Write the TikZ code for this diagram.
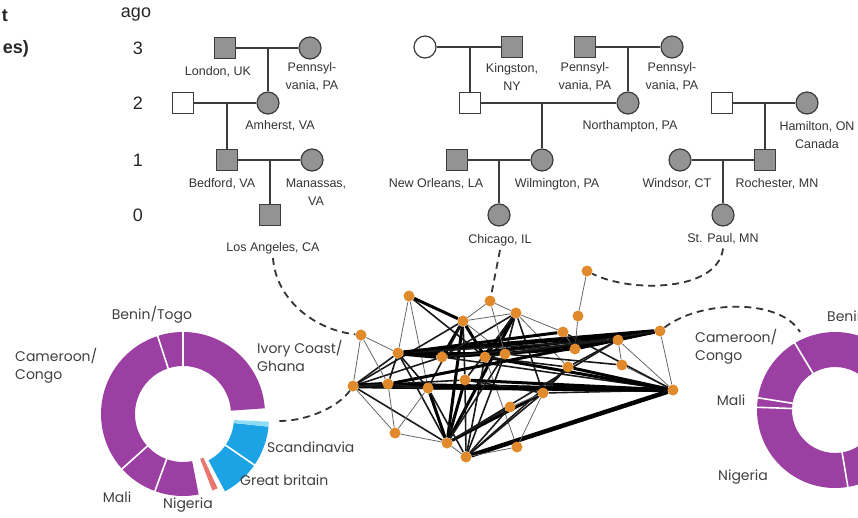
\documentclass[tikz,border=0pt]{standalone}
\usepackage{fontspec}
\setmainfont{Liberation Sans}
\newfontfamily\geo{Poppins}
\definecolor{purp}{HTML}{9B3FA2}
\definecolor{blu}{HTML}{1CA3E6}
\definecolor{lblu}{HTML}{8FDDF5}
\definecolor{redp}{HTML}{E8766E}
\definecolor{orng}{HTML}{E08A2C}
\definecolor{pedfill}{HTML}{939393}
\definecolor{pedline}{HTML}{3C3C3C}
\pgfdeclarelayer{bg}
\pgfsetlayers{bg,main}
\newcommand{\dseg}[5]{\fill[#1] (#2:#5) arc[start angle=#2, end angle=#3, radius=#5] -- (#3:#4) arc[start angle=#3, end angle=#2, radius=#4] -- cycle;}
\newcommand{\dsep}[3]{\draw[white, line width=1.6pt] (#1:#2) -- (#1:#3);}
\begin{document}
\begin{tikzpicture}[x=1pt,y=1pt,
  sq/.style={rectangle, draw=pedline, line width=1.2pt, fill=pedfill, minimum size=21pt, inner sep=0pt},
  sqw/.style={sq, fill=white},
  ci/.style={circle, draw=pedline, line width=1.2pt, fill=pedfill, minimum size=22pt, inner sep=0pt},
  ciw/.style={ci, fill=white},
  pl/.style={draw=pedline, line width=1.3pt},
  lab/.style={font=\fontsize{12.5}{18}\selectfont, text=black!80, align=center, inner sep=0pt},
  gen/.style={font=\fontsize{18}{20}\selectfont, text=black!85, inner sep=0pt},
  dlab/.style={font=\geo\fontsize{14}{18}\selectfont, text=black!75, inner sep=0pt},
  nd/.style={circle, fill=orng, minimum size=11pt, inner sep=0pt},
  ea/.style={line width=0.8pt, draw=black!60},
  eb/.style={line width=1.6pt, draw=black!90},
  ec/.style={line width=3pt, draw=black},
  ed/.style={line width=4.5pt, draw=black},
  dsh/.style={dash pattern=on 7pt off 5pt, line width=1.8pt, draw=black!80}
]
\useasboundingbox (0,0) rectangle (858,-517);
\clip (0,0) rectangle (858,-517);

% cut-off left labels
\node[gen, font=\bfseries\fontsize{18}{20}\selectfont, anchor=east] (cutA) at (8,-16) {t};
\node[gen, font=\bfseries\fontsize{18}{20}\selectfont, anchor=east] (cutB) at (29,-49) {es)};
% generation axis
\node[gen] (ago) at (136,-15) {ago};
\node[gen] (g3) at (138,-48) {3};
\node[gen] (g2) at (138,-103) {2};
\node[gen] (g1) at (138,-160) {1};
\node[gen] (g0) at (138,-215) {0};

% ---------- pedigree 1
\node[sq] (l3a) at (225,-48) {};
\node[ci] (l3b) at (310,-48) {};
\node[sqw] (l2a) at (183,-103) {};
\node[ci] (l2b) at (268,-103) {};
\node[sq] (l1a) at (227,-160) {};
\node[ci] (l1b) at (312,-160) {};
\node[sq] (l0) at (270,-215) {};
\coordinate (l3m) at (268,-48);
\coordinate (l2m) at (227,-103);
\coordinate (l1m) at (270,-160);
\draw[pl] (l3a) -- (l3b);
\draw[pl] (l3m) -- (l2b);
\draw[pl] (l2a) -- (l2b);
\draw[pl] (l2m) -- (l1a);
\draw[pl] (l1a) -- (l1b);
\draw[pl] (l1m) -- (l0);
\node[lab] (tLon) at (218,-72) {London, UK};
\node[lab] (tPa1) at (312,-77) {Pennsyl-\\vania, PA};
\node[lab] (tAmh) at (280,-126) {Amherst, VA};
\node[lab] (tBed) at (222,-184) {Bedford, VA};
\node[lab] (tMan) at (316,-192) {Manassas,\\VA};
\node[lab] (tLA) at (273,-248) {Los Angeles, CA};

% ---------- pedigree 2
\node[ciw] (m3a) at (425,-47) {};
\node[sq] (m3b) at (512,-47) {};
\node[sq] (m3c) at (585,-47) {};
\node[ci] (m3d) at (672,-47) {};
\node[sqw] (m2a) at (470,-103) {};
\node[ci] (m2b) at (628,-103) {};
\node[sq] (m1a) at (457,-160) {};
\node[ci] (m1b) at (542,-160) {};
\node[ci] (m0) at (499,-215) {};
\coordinate (m3m) at (470,-47);
\coordinate (m3n) at (628,-47);
\coordinate (m2m) at (542,-103);
\coordinate (m1m) at (499,-160);
\draw[pl] (m3a) -- (m3b);
\draw[pl] (m3m) -- (m2a);
\draw[pl] (m3c) -- (m3d);
\draw[pl] (m3n) -- (m2b);
\draw[pl] (m2a) -- (m2b);
\draw[pl] (m2m) -- (m1b);
\draw[pl] (m1a) -- (m1b);
\draw[pl] (m1m) -- (m0);
\node[lab] (tKin) at (512,-77) {Kingston,\\NY};
\node[lab] (tPa2) at (585,-77) {Pennsyl-\\vania, PA};
\node[lab] (tPa3) at (672,-77) {Pennsyl-\\vania, PA};
\node[lab] (tNor) at (630,-126) {Northampton, PA};
\node[lab] (tNO) at (436,-184) {New Orleans, LA};
\node[lab] (tWil) at (557,-184) {Wilmington, PA};
\node[lab] (tChi) at (500,-240) {Chicago, IL};

% ---------- pedigree 3
\node[sqw] (r2a) at (722,-103) {};
\node[ci] (r2b) at (807,-103) {};
\node[ci] (r1a) at (680,-160) {};
\node[sq] (r1b) at (765,-160) {};
\node[ci] (r0) at (723,-215) {};
\coordinate (r2m) at (765,-103);
\coordinate (r1m) at (723,-160);
\draw[pl] (r2a) -- (r2b);
\draw[pl] (r2m) -- (r1b);
\draw[pl] (r1a) -- (r1b);
\draw[pl] (r1m) -- (r0);
\node[lab] (tHam) at (817,-135) {Hamilton, ON\\Canada};
\node[lab] (tWin) at (677,-184) {Windsor, CT};
\node[lab] (tRoc) at (777,-184) {Rochester, MN};
\node[lab] (tSP) at (723,-239) {St. Paul, MN};

% ---------- network
\node[nd] (n1) at (409,-296) {};
\node[nd] (n2) at (490,-301) {};
\node[nd] (n3) at (516,-313) {};
\node[nd] (n4) at (463,-321) {};
\node[nd] (n5) at (361,-335) {};
\node[nd] (n6) at (398,-353) {};
\node[nd] (n7) at (442,-357) {};
\node[nd] (n8) at (485,-357) {};
\node[nd] (n9) at (505,-354) {};
\node[nd] (n10) at (353,-386) {};
\node[nd] (n11) at (388,-384) {};
\node[nd] (n12) at (428,-388) {};
\node[nd] (n13) at (465,-380) {};
\node[nd] (n14) at (543,-393) {};
\node[nd] (n15) at (510,-407) {};
\node[nd] (n16) at (395,-433) {};
\node[nd] (n17) at (447,-443) {};
\node[nd] (n18) at (466,-457) {};
\node[nd] (n19) at (517,-447) {};
\node[nd] (n20) at (587,-271) {};
\node[nd] (n21) at (578,-316) {};
\node[nd] (n22) at (563,-332) {};
\node[nd] (n23) at (575,-349) {};
\node[nd] (n24) at (568,-367) {};
\node[nd] (n25) at (618,-340) {};
\node[nd] (n26) at (660,-331) {};
\node[nd] (n27) at (622,-365) {};
\node[nd] (n28) at (673,-390) {};

\begin{pgfonlayer}{bg}
\foreach \a/\b/\s in {n1/n4/ec, n1/n12/ea, n1/n8/eb, n2/n4/ea, n2/n3/ea, n3/n4/ea,
  n3/n8/ec, n3/n17/ec, n3/n9/eb, n3/n13/eb, n3/n24/ea, n3/n14/eb, n3/n22/ea,
  n4/n7/ec, n4/n17/ec, n4/n13/eb, n4/n8/ec, n4/n12/eb, n4/n10/eb, n4/n9/ea,
  n5/n6/ea, n5/n10/ea, n6/n26/ed, n6/n9/ec, n6/n10/eb, n6/n12/eb, n6/n17/eb,
  n6/n7/ed, n6/n11/eb, n7/n26/ec, n7/n23/ec, n7/n10/eb, n7/n28/eb, n8/n28/ec,
  n8/n18/eb, n8/n19/ea, n8/n24/eb, n9/n25/ec, n9/n18/eb, n9/n27/eb,
  n10/n28/ed, n10/n11/ed, n10/n17/eb, n10/n12/eb, n10/n13/eb, n11/n16/ea,
  n11/n28/ec, n11/n12/eb, n12/n17/ec, n12/n16/ea, n13/n28/ec, n13/n18/eb,
  n13/n14/eb, n16/n17/ea, n17/n18/ea, n17/n14/ec, n17/n15/eb, n17/n25/eb,
  n18/n28/ed, n18/n14/eb, n18/n15/eb, n18/n19/ea, n18/n24/eb, n19/n14/ea,
  n15/n14/ea, n20/n21/ea, n21/n23/ea, n22/n23/ea, n23/n25/eb, n23/n26/ec,
  n24/n25/eb, n24/n28/ec, n25/n26/ea, n25/n27/ea, n25/n28/ea, n26/n28/ea,
  n27/n28/ea, n22/n28/eb, n14/n24/eb, n14/n28/eb, n11/n26/ec, n6/n25/eb,
  n12/n28/ec, n7/n25/eb, n6/n22/ec, n8/n26/eb, n1/n6/ea, n5/n11/ea, n16/n10/ea,
  n17/n13/ec, n18/n12/eb, n3/n7/eb, n9/n17/eb, n2/n9/ea}
  \draw[\s] (\a) -- (\b);
\end{pgfonlayer}

% ---------- left donut
\begin{scope}[shift={(183,-414)}]
  \dseg{purp}{4}{90}{48pt}{82pt}
  \dseg{purp}{90}{108}{48pt}{82pt}
  \dseg{purp}{108}{222}{48pt}{82pt}
  \dseg{purp}{222}{250}{48pt}{82pt}
  \dseg{purp}{250}{281}{48pt}{82pt}
  \dseg{redp}{291}{295}{48pt}{82pt}
  \dsep{90}{47pt}{83pt}
  \dsep{108}{47pt}{83pt}
  \dsep{222}{47pt}{83pt}
  \dsep{250}{47pt}{83pt}
\end{scope}
\begin{scope}[shift={(186,-418)}]
  \dseg{blu}{298}{325}{48pt}{83pt}
  \dseg{blu}{326}{354}{48pt}{83pt}
  \dseg{lblu}{354}{357.5}{48pt}{83pt}
  \dsep{325.5}{47pt}{84pt}
\end{scope}
\coordinate (ld) at (279,-421);
\node[dlab] (dBen) at (152,-315) {Benin/Togo};
\node[dlab, anchor=west, align=left] (dCam) at (15,-366) {Cameroon/\\Congo};
\node[dlab, anchor=west, align=left] (dIvo) at (257,-356) {Ivory Coast/\\Ghana};
\node[dlab, anchor=west] (dSca) at (267,-447) {Scandinavia};
\node[dlab, anchor=west] (dGB) at (240,-480) {Great britain};
\node[dlab] (dMal) at (117,-497) {Mali};
\node[dlab] (dNig) at (188,-505) {Nigeria};

% ---------- right donut
\begin{scope}[shift={(835,-410)}]
  \dseg{purp}{121}{171}{43pt}{78pt}
  \dseg{purp}{171}{178}{43pt}{78pt}
  \dseg{purp}{178}{279.5}{43pt}{78pt}
  \dseg{purp}{279.5}{481}{43pt}{78pt}
  \dsep{121}{42pt}{79pt}
  \dsep{171}{42pt}{79pt}
  \dsep{178}{42pt}{79pt}
  \dsep{279.5}{42pt}{79pt}
\end{scope}
\coordinate (rd) at (800,-332);
\node[dlab, anchor=west] (eBen) at (827,-317) {Benin/Togo};
\node[dlab, anchor=west, align=left] (eCam) at (695,-347) {Cameroon/\\Congo};
\node[dlab] (eMal) at (731,-400) {Mali};
\node[dlab] (eNig) at (743,-477) {Nigeria};

% ---------- dashed links
\draw[dsh] ([yshift=-4pt]tLA.south) .. controls (276,-300) and (315,-330) .. (n5);
\draw[dsh] ([yshift=-4pt]tChi.south) -- (n2);
\draw[dsh] ([yshift=-4pt]tSP.south) .. controls (718,-292) and (630,-293) .. (n20);
\draw[dsh] (n10) .. controls (340,-405) and (310,-421) .. (ld);
\draw[dsh] (n26) .. controls (700,-300) and (780,-298) .. (rd);
\end{tikzpicture}
\end{document}
